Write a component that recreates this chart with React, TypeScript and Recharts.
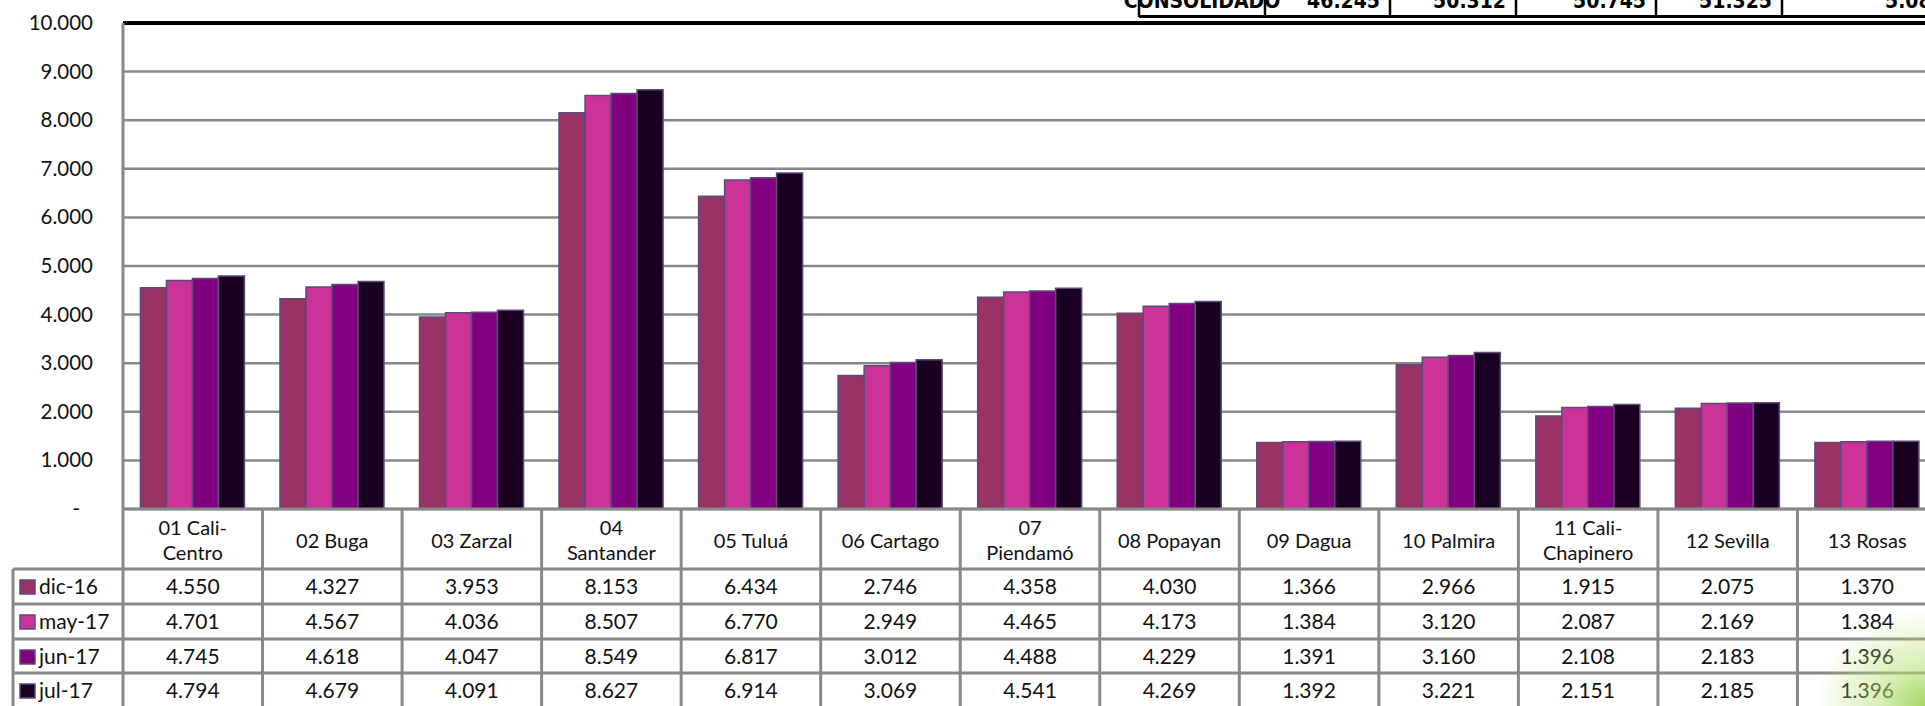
import React from 'react';
import { BarChart, Bar, XAxis, YAxis, CartesianGrid, ReferenceLine } from 'recharts';

// sedes (labels with a forced line break where the original wraps)
const categories = [
  '01 Cali-\nCentro',
  '02 Buga',
  '03 Zarzal',
  '04\nSantander',
  '05 Tuluá',
  '06 Cartago',
  '07\nPiendamó',
  '08 Popayan',
  '09 Dagua',
  '10 Palmira',
  '11 Cali-\nChapinero',
  '12 Sevilla',
  '13 Rosas',
];

const seriesNames = ['dic-16', 'may-17', 'jun-17', 'jul-17'];
const dic16 = [4550, 4327, 3953, 8153, 6434, 2746, 4358, 4030, 1366, 2966, 1915, 2075, 1370];
const may17 = [4701, 4567, 4036, 8507, 6770, 2949, 4465, 4173, 1384, 3120, 2087, 2169, 1384];
const jun17 = [4745, 4618, 4047, 8549, 6817, 3012, 4488, 4229, 1391, 3160, 2108, 2183, 1396];
const jul17 = [4794, 4679, 4091, 8627, 6914, 3069, 4541, 4269, 1392, 3221, 2151, 2185, 1396];

const yTicks = [0, 1000, 2000, 3000, 4000, 5000, 6000, 7000, 8000, 9000, 10000];

// the summary table cut off at the top of the picture
const consolidadoLabel = 'CONSOLIDADO';
const consolidadoValues = [46245, 50312, 50745, 51325, 5080];

const colors = ['#993366', '#cc3399', '#800080', '#1a0020'];
const seriesKeys = ['dic16', 'may17', 'jun17', 'jul17'];
const allSeries = [dic16, may17, jun17, jul17];

const data = categories.map((name, i) => ({
  name,
  dic16: dic16[i],
  may17: may17[i],
  jun17: jun17[i],
  jul17: jul17[i],
}));

const fmt = (n: number) => String(n).replace(/\B(?=(\d{3})+(?!\d))/g, '.');

const CHART_W = 1940;
const CHART_H = 706;
const LEFT = 123;
const RIGHT_M = 3;
const BW = (CHART_W - RIGHT_M - LEFT) / categories.length;
const GRID = '#888888';
const FONT = 'Lato, "Open Sans", sans-serif';
const BORDER = '#5c4a7a';

const rowCenters = [587, 622, 657, 691];
const rowLines = [569, 604, 639, 673];

const YTick = (props: any) => {
  const { x, y, payload } = props;
  const v = payload.value;
  return (
    <text
      x={v === 0 ? x - 13 : x}
      y={y + 7}
      textAnchor="end"
      fontFamily={FONT}
      fontSize={20.5}
      fill="#111"
    >
      {v === 0 ? '-' : fmt(v)}
    </text>
  );
};

const TableTick = (props: any) => {
  const { x, payload, index } = props;
  const left = x - BW / 2;
  const right = x + BW / 2;
  const lines = String(payload.value).split('\n');
  const isLast = index === categories.length - 1;
  return (
    <g>
      <line x1={left} x2={left} y1={509} y2={CHART_H} stroke={GRID} strokeWidth={3} />
      {isLast && <line x1={right} x2={right} y1={509} y2={CHART_H} stroke={GRID} strokeWidth={3} />}
      {rowLines.map((ly) => (
        <line key={ly} x1={left} x2={right} y1={ly} y2={ly} stroke={GRID} strokeWidth={3} />
      ))}
      {lines.length === 1 ? (
        <text x={x} y={548} textAnchor="middle" fontFamily={FONT} fontSize={20} fill="#111">
          {lines[0]}
        </text>
      ) : (
        lines.map((t, k) => (
          <text key={k} x={x} y={535 + k * 25} textAnchor="middle" fontFamily={FONT} fontSize={20} fill="#111">
            {t}
          </text>
        ))
      )}
      {allSeries.map((s, r) => (
        <text key={r} x={x} y={rowCenters[r] + 7} textAnchor="middle" fontFamily={FONT} fontSize={21} fill="#111">
          {fmt(s[index])}
        </text>
      ))}
      {index === 0 && (
        <g>
          <line x1={13} x2={left} y1={569} y2={569} stroke={GRID} strokeWidth={3} />
          <line x1={13} x2={13} y1={569} y2={CHART_H} stroke={GRID} strokeWidth={3} />
          {rowLines.slice(1).map((ly) => (
            <line key={ly} x1={13} x2={left} y1={ly} y2={ly} stroke={GRID} strokeWidth={3} />
          ))}
          {seriesNames.map((nm, r) => (
            <g key={nm}>
              <rect x={20} y={rowCenters[r] - 7} width={15} height={14} fill={colors[r]} stroke={BORDER} strokeWidth={1.5} />
              <text x={39} y={rowCenters[r] + 7} fontFamily={FONT} fontSize={21} fill="#111">
                {nm}
              </text>
            </g>
          ))}
        </g>
      )}
    </g>
  );
};

const sepX = [1139, 1265, 1390, 1516, 1656, 1782, 1960];

export default function App() {
  return (
    <div
      style={{
        position: 'fixed',
        left: 0,
        top: 0,
        width: 1925,
        height: 706,
        overflow: 'hidden',
        background: '#fff',
      }}
    >
      <BarChart
        width={CHART_W}
        height={CHART_H}
        data={data}
        margin={{ top: 23, right: RIGHT_M, left: 0, bottom: 0 }}
        barCategoryGap="12.5%"
        barGap={0}
      >
        <CartesianGrid vertical={false} stroke={GRID} strokeWidth={2.5} />
        <XAxis
          dataKey="name"
          interval={0}
          height={197}
          tickLine={false}
          tickSize={0}
          tickMargin={0}
          axisLine={{ stroke: GRID, strokeWidth: 3 }}
          tick={<TableTick />}
        />
        <YAxis
          width={LEFT}
          domain={[0, 10000]}
          ticks={yTicks}
          interval={0}
          tickLine={false}
          tickSize={8}
          tickMargin={22}
          axisLine={{ stroke: GRID, strokeWidth: 3 }}
          tick={<YTick />}
        />
        <ReferenceLine y={10000} stroke="#000" strokeWidth={4} />
        {seriesKeys.map((k, i) => (
          <Bar
            key={k}
            dataKey={k}
            name={seriesNames[i]}
            fill={colors[i]}
            stroke={BORDER}
            strokeWidth={1.5}
            isAnimationActive={false}
          />
        ))}
      </BarChart>

      {/* clipped summary table at the top */}
      <svg
        width={1925}
        height={20}
        style={{ position: 'absolute', left: 0, top: 0 }}
      >
        <line x1={sepX[0]} x2={1925} y1={16.5} y2={16.5} stroke="#000" strokeWidth={3} />
        {sepX.slice(0, 6).map((sx) => (
          <line key={sx} x1={sx} x2={sx} y1={0} y2={17} stroke="#000" strokeWidth={2.5} />
        ))}
        <text
          x={(sepX[0] + sepX[1]) / 2}
          y={8}
          textAnchor="middle"
          fontFamily='"Liberation Sans Narrow", "DejaVu Sans Condensed", sans-serif'
          fontWeight="bold"
          fontSize={21}
          fill="#000"
        >
          {consolidadoLabel}
        </text>
        {consolidadoValues.map((v, i) => (
          <text
            key={i}
            x={i < 4 ? sepX[i + 2] - 10 : 1885}
            y={8}
            textAnchor={i < 4 ? 'end' : 'start'}
            fontFamily='"Liberation Sans Narrow", "DejaVu Sans Condensed", sans-serif'
            fontWeight="bold"
            fontSize={21}
            fill="#000"
          >
            {fmt(v)}
          </text>
        ))}
      </svg>

      {/* green glow in the bottom-right corner */}
      <div
        style={{
          position: 'absolute',
          right: 0,
          bottom: 0,
          width: 160,
          height: 140,
          background:
            'radial-gradient(ellipse at 100% 100%, rgba(150,205,70,0.85) 0px, rgba(185,225,120,0.55) 45px, rgba(255,255,255,0) 110px)',
          pointerEvents: 'none',
        }}
      />
    </div>
  );
}
